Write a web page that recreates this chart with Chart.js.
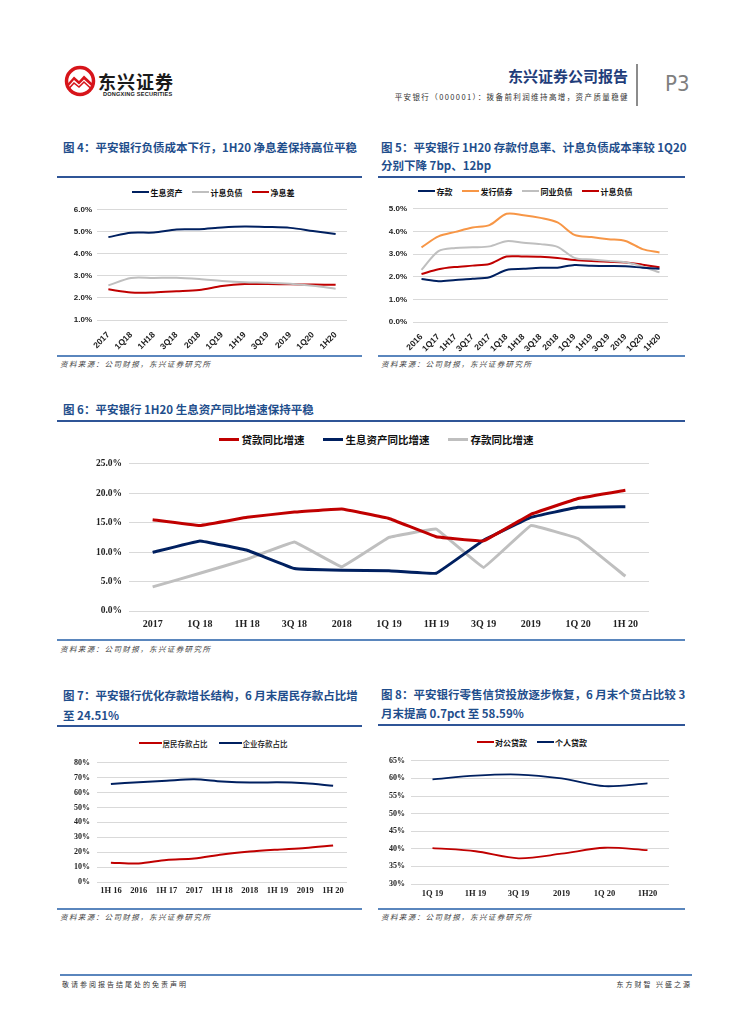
<!DOCTYPE html>
<html>
<head>
<meta charset="utf-8">
<script src="https://cdn.jsdelivr.net/npm/chart.js@4.4.0/dist/chart.umd.min.js"></script>
<style>
  html, body { margin: 0; padding: 0; background: #fff; }
  #page { position: relative; width: 755px; height: 1024px; overflow: hidden;
          font-family: "Noto Sans CJK SC", "Liberation Sans", sans-serif; }
  .abs { position: absolute; white-space: nowrap; }
  .title { color: #1f4e8c; font-weight: 700; font-size: 11.5px; line-height: 14px; }
  .rule-top { position: absolute; height: 1.5px; background: #2f5597; }
  .rule-bot { position: absolute; height: 2px; background: #5a86bd; }
  .src { font-size: 7.5px; line-height: 9px; color: #444; font-style: italic; letter-spacing: 1.4px; }
  .legend { position: absolute; display: flex; justify-content: center; align-items: center; width: 400px; white-space: nowrap; }
  .legend .it { display: flex; align-items: center; }
  canvas { position: absolute; }
</style>
</head>
<body>
<div id="page">
  <!-- header -->
  <svg class="abs" style="left:63px;top:65px" width="34" height="32" viewBox="0 0 34 32">
    <circle cx="17" cy="16" r="13.5" fill="#fff" stroke="#d7141a" stroke-width="3.5"/>
    <path d="M3.5 20 L11 11.5 L16 16 L21 10.5 L30.5 19.5 L30 22.5 L21 14.5 L16 19.5 L11 15 L4 23 Z" fill="#d7141a"/>
    <path d="M5 24.5 L11 18 L16 22 L21 17 L29 24.5" fill="none" stroke="#d7141a" stroke-width="1.6"/>
  </svg>
  <div class="abs" style="left:98px;top:72px;font-size:18px;line-height:18px;font-weight:700;color:#1a1a1a;letter-spacing:1px">东兴证券</div>
  <div class="abs" style="left:103px;top:91px;font-family:'Liberation Sans',sans-serif;font-size:5.6px;line-height:7px;font-weight:700;color:#1a1a1a;letter-spacing:0.2px">DONGXING SECURITIES</div>
  <div class="abs" style="right:127px;top:68px;font-size:15px;line-height:16px;font-weight:700;color:#1f3d7a">东兴证券公司报告</div>
  <div class="abs" style="right:126px;top:92px;font-size:7.5px;line-height:10px;color:#333;letter-spacing:1.4px;font-family:'Noto Sans CJK SC',serif">平安银行（000001）：拨备前利润维持高增，资产质量稳健</div>
  <div class="abs" style="left:636px;top:64px;width:1.5px;height:42px;background:#8c8c8c"></div>
  <div class="abs" style="left:665px;top:72px;font-family:'Liberation Sans Narrow','DejaVu Sans Condensed',sans-serif;font-size:22px;line-height:24px;color:#7f7f7f">P3</div>

  <!-- 图4 -->
  <div class="abs title" style="left:63px;top:140px">图 4：平安银行负债成本下行，1H20 净息差保持高位平稳</div>
  <div class="rule-top" style="left:57px;top:176px;width:305px"></div>
  <div class="rule-bot" style="left:57px;top:355px;width:305px"></div>
  <div class="abs src" style="left:60px;top:359px">资料来源：公司财报，东兴证券研究所</div>

  <!-- 图5 -->
  <div class="abs title" style="left:381px;top:138px;line-height:18px">图 5：平安银行 1H20 存款付息率、计息负债成本率较 1Q20<br>分别下降 7bp、12bp</div>
  <div class="rule-top" style="left:378px;top:176px;width:307px"></div>
  <div class="rule-bot" style="left:378px;top:355px;width:307px"></div>
  <div class="abs src" style="left:381px;top:359px">资料来源：公司财报，东兴证券研究所</div>

  <!-- 图6 -->
  <div class="abs title" style="left:63px;top:402px">图 6：平安银行 1H20 生息资产同比增速保持平稳</div>
  <div class="rule-top" style="left:57px;top:420px;width:628px"></div>
  <div class="rule-bot" style="left:57px;top:639px;width:628px"></div>
  <div class="abs src" style="left:60px;top:644px">资料来源：公司财报，东兴证券研究所</div>

  <!-- 图7 -->
  <div class="abs title" style="left:63px;top:685px;line-height:20px">图 7：平安银行优化存款增长结构，6 月末居民存款占比增<br>至 24.51%</div>
  <div class="rule-top" style="left:57px;top:725px;width:305px"></div>
  <div class="rule-bot" style="left:57px;top:908px;width:305px"></div>
  <div class="abs src" style="left:60px;top:912px">资料来源：公司财报，东兴证券研究所</div>

  <!-- 图8 -->
  <div class="abs title" style="left:381px;top:685px;line-height:19px">图 8：平安银行零售信贷投放逐步恢复，6 月末个贷占比较 3<br>月末提高 0.7pct 至 58.59%</div>
  <div class="rule-top" style="left:378px;top:724px;width:307px"></div>
  <div class="rule-bot" style="left:378px;top:908px;width:307px"></div>
  <div class="abs src" style="left:381px;top:912px">资料来源：公司财报，东兴证券研究所</div>

  <!-- footer -->
  <div class="rule-bot" style="left:60px;top:974px;width:632px"></div>
  <div class="abs" style="left:62px;top:980px;font-size:7px;line-height:9px;color:#333;letter-spacing:2px">敬请参阅报告结尾处的免责声明</div>
  <div class="abs" style="right:63px;top:980px;font-size:7px;line-height:9px;color:#333;letter-spacing:2px">东方财智 兴盛之源</div>
</div>

<script>
// ---- 图4 data (%)
const q4Labels = ['2017', '1Q18', '1H18', '3Q18', '2018', '1Q19', '1H19', '3Q19', '2019', '1Q20', '1H20'];
const q4Assets = [4.76, 4.96, 4.97, 5.11, 5.12, 5.20, 5.24, 5.22, 5.18, 5.04, 4.90];
const q4Liab   = [2.57, 2.91, 2.91, 2.92, 2.86, 2.77, 2.71, 2.69, 2.64, 2.55, 2.42];
const q4Nim    = [2.39, 2.25, 2.25, 2.30, 2.36, 2.54, 2.63, 2.63, 2.62, 2.61, 2.60];

// ---- 图5 data (%)
const q5Labels  = ['2016', '1Q17', '1H17', '3Q17', '2017', '1Q18', '1H18', '3Q18', '2018', '1Q19', '1H19', '3Q19', '2019', '1Q20', '1H20'];
const q5Deposit = [1.90, 1.80, 1.86, 1.91, 1.98, 2.30, 2.35, 2.40, 2.40, 2.52, 2.48, 2.47, 2.46, 2.40, 2.35];
const q5Bond    = [3.30, 3.78, 3.98, 4.17, 4.28, 4.78, 4.72, 4.60, 4.40, 3.85, 3.75, 3.66, 3.58, 3.22, 3.07];
const q5Interbk = [2.30, 3.13, 3.27, 3.30, 3.34, 3.57, 3.50, 3.44, 3.32, 2.83, 2.76, 2.70, 2.64, 2.45, 2.19];
const q5Liab    = [2.12, 2.33, 2.43, 2.49, 2.56, 2.89, 2.89, 2.88, 2.83, 2.74, 2.69, 2.66, 2.63, 2.53, 2.42];

// ---- 图6 data (%)
const q6Labels  = ['2017', '1Q 18', '1H 18', '3Q 18', '2018', '1Q 19', '1H 19', '3Q 19', '2019', '1Q 20', '1H 20'];
const q6Loan    = [15.5, 14.5, 15.9, 16.8, 17.3, 15.7, 12.6, 11.9, 16.4, 19.1, 20.5];
const q6Assets  = [9.95, 11.9, 10.3, 7.2, 6.9, 6.85, 6.4, 12.0, 15.9, 17.6, 17.7];
const q6Deposit = [4.1, 6.4, 8.8, 11.7, 7.5, 12.5, 13.9, 7.4, 14.5, 12.3, 5.9];

// ---- 图7 data (%)
const q7Labels = ['1H 16', '2016', '1H 17', '2017', '1H 18', '2018', '1H 19', '2019', '1H 20'];
const q7Retail = [13.0, 12.4, 14.8, 15.7, 18.5, 20.4, 21.7, 22.8, 24.51];
const q7Corp   = [65.7, 67.0, 68.0, 68.9, 67.4, 66.7, 67.0, 66.3, 64.6];

// ---- 图8 data (%)
const q8Labels   = ['1Q 19', '1H 19', '3Q 19', '2019', '1Q 20', '1H20'];
const q8Corp     = [40.2, 39.3, 37.3, 38.6, 40.3, 39.6];
const q8Personal = [59.75, 60.8, 61.1, 60.0, 57.8, 58.59];

const RED = '#c00000', NAVY = '#002060', GRAY = '#bfbfbf', ORANGE = '#f79646';
const GRID = '#d9d9d9';
const page = document.getElementById('page');

function legend(cx, cy, items, o) {
  const d = document.createElement('div');
  d.className = 'legend';
  d.style.left = (cx - 200) + 'px';
  d.style.top = (cy - 8) + 'px';
  d.style.height = '16px';
  d.style.gap = o.gap + 'px';
  items.forEach(function (it) {
    const e = document.createElement('div');
    e.className = 'it';
    e.innerHTML = '<span style="display:inline-block;width:' + o.lw + 'px;height:' + o.lh + 'px;background:' + it.color +
      ';margin-right:' + o.tg + 'px"></span><span style="font-size:' + o.fs + 'px;font-weight:' + o.fw + ';color:#111">' + it.name + '</span>';
    d.appendChild(e);
  });
  page.appendChild(d);
}

function lineChart(p) {
  const c = document.createElement('canvas');
  const left = p.x0 - p.yw, top = p.y0 - p.padT;
  const w = p.x1 - left + p.padR, h = p.y1 - top + p.xh;
  c.width = w; c.height = h;
  c.style.left = left + 'px'; c.style.top = top + 'px';
  c.style.width = w + 'px'; c.style.height = h + 'px';
  page.appendChild(c);
  return new Chart(c.getContext('2d'), {
    type: 'line',
    data: {
      labels: p.labels,
      datasets: p.series.map(function (s) {
        return { label: s.name, data: s.data, borderColor: s.color, backgroundColor: s.color,
                 borderWidth: p.lw, pointRadius: 0, tension: p.tension, fill: false };
      }),
    },
    options: {
      responsive: false, animation: false, devicePixelRatio: 1,
      layout: { padding: { top: p.padT, right: p.padR, left: 0, bottom: 0 } },
      plugins: { legend: { display: false }, tooltip: { enabled: false } },
      scales: {
        x: {
          offset: true, grid: { display: false, drawTicks: false }, border: { display: false },
          ticks: { color: '#222', font: p.xFont, padding: p.xPad, autoSkip: false, maxRotation: p.rot, minRotation: p.rot },
          afterFit: function (s) { s.height = p.xh; },
        },
        y: {
          min: p.min, max: p.max, grid: { color: GRID, drawTicks: false }, border: { display: false },
          ticks: { stepSize: p.step, color: '#222', font: p.yFont, padding: p.yPad, callback: p.fmt },
          afterFit: function (s) { s.width = p.yw; },
        },
      },
    },
  });
}

const pct1 = function (v) { return v.toFixed(1) + '%'; };
const pct0 = function (v) { return v + '%'; };
const SANS = "'Liberation Sans', Arial, sans-serif";
const SERIF = "'Liberation Serif', 'Times New Roman', serif";

// 图4
const s4 = [{ name: '生息资产', data: q4Assets, color: NAVY }, { name: '计息负债', data: q4Liab, color: GRAY }, { name: '净息差', data: q4Nim, color: RED }];
legend(213, 192, s4, { gap: 9, lw: 17, lh: 2.5, tg: 2, fs: 8, fw: 700 });
lineChart({ labels: q4Labels, series: s4, x0: 97, x1: 347, y0: 208, y1: 320, yw: 40, padT: 8, padR: 10, xh: 34,
  min: 1, max: 6, step: 1, fmt: pct1, lw: 2, tension: 0.3, rot: 45, xPad: 10, yPad: 5,
  xFont: { family: SANS, size: 8.5, weight: 'bold' }, yFont: { family: SANS, size: 8, weight: 'bold' } });

// 图5
const s5 = [{ name: '存款', data: q5Deposit, color: NAVY }, { name: '发行债券', data: q5Bond, color: ORANGE },
            { name: '同业负债', data: q5Interbk, color: GRAY }, { name: '计息负债', data: q5Liab, color: RED }];
legend(525, 191, s5, { gap: 9, lw: 17, lh: 2.5, tg: 2, fs: 8, fw: 700 });
lineChart({ labels: q5Labels, series: s5, x0: 413, x1: 668, y0: 206, y1: 322, yw: 35, padT: 8, padR: 10, xh: 34,
  min: 0, max: 5, step: 1, fmt: pct1, lw: 2, tension: 0.3, rot: 45, xPad: 10, yPad: 6,
  xFont: { family: SANS, size: 8.5, weight: 'bold' }, yFont: { family: SANS, size: 8, weight: 'bold' } });

// 图6
const s6 = [{ name: '贷款同比增速', data: q6Loan, color: RED }, { name: '生息资产同比增速', data: q6Assets, color: NAVY },
            { name: '存款同比增速', data: q6Deposit, color: GRAY }];
legend(376, 439, s6, { gap: 18, lw: 20, lh: 3, tg: 3, fs: 10.5, fw: 700 });
lineChart({ labels: q6Labels, series: s6, x0: 129, x1: 649, y0: 459, y1: 611, yw: 60, padT: 8, padR: 10, xh: 24,
  min: 0, max: 25, step: 5, fmt: pct1, lw: 3, tension: 0.05, rot: 0, xPad: 7, yPad: 7,
  xFont: { family: SERIF, size: 10, weight: 'bold' }, yFont: { family: SERIF, size: 9.5, weight: 'bold' } });

// 图7
const s7 = [{ name: '居民存款占比', data: q7Retail, color: RED }, { name: '企业存款占比', data: q7Corp, color: NAVY }];
legend(213, 743, s7, { gap: 11, lw: 23, lh: 2, tg: 1, fs: 7.5, fw: 500 });
lineChart({ labels: q7Labels, series: s7, x0: 97, x1: 347, y0: 759, y1: 882, yw: 40, padT: 8, padR: 10, xh: 20,
  min: 0, max: 80, step: 10, fmt: pct0, lw: 2, tension: 0.3, rot: 0, xPad: 4, yPad: 7,
  xFont: { family: SERIF, size: 8.5, weight: 'bold' }, yFont: { family: SERIF, size: 8, weight: 'bold' } });

// 图8
const s8 = [{ name: '对公贷款', data: q8Corp, color: RED }, { name: '个人贷款', data: q8Personal, color: NAVY }];
legend(532, 742, s8, { gap: 10, lw: 17, lh: 2, tg: 1, fs: 8, fw: 700 });
lineChart({ labels: q8Labels, series: s8, x0: 411, x1: 669, y0: 758, y1: 884, yw: 35, padT: 8, padR: 10, xh: 20,
  min: 30, max: 65, step: 5, fmt: pct0, lw: 1.8, tension: 0.3, rot: 0, xPad: 4.5, yPad: 6,
  xFont: { family: SERIF, size: 8.5, weight: 'bold' }, yFont: { family: SERIF, size: 8, weight: 'bold' } });
</script>
</body>
</html>
